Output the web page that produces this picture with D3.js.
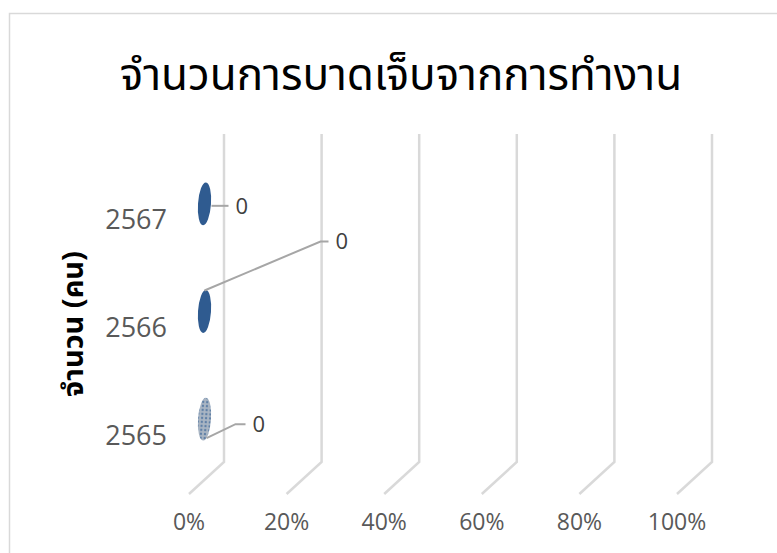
<!DOCTYPE html>
<html>
<head>
<meta charset="utf-8">
<script src="https://cdn.jsdelivr.net/npm/d3@7"></script>
<style>
    body { margin: 0; background: #fff; }
    svg text { font-family: "Open Sans", "Noto Sans Thai", "Noto Sans", "DejaVu Sans", sans-serif; }
</style>
</head>
<body>
<div id="chart-area"></div>
<script>
const WIDTH = 777,
    HEIGHT = 553,
    DEPTH_X = -35,   // 3d floor offset
    DEPTH_Y = 32,
    COLOR_BAR = '#2f5b90',
    COLOR_GRID = '#d9d9d9',
    COLOR_LEADER = '#a6a6a6',
    COLOR_TEXT = '#595959';

// data
const years = ['2567', '2566', '2565'];
const injuries = [0, 0, 0];
const xTicks = [0, 0.2, 0.4, 0.6, 0.8, 1];
const title = 'จำนวนการบาดเจ็บจากการทำงาน';
const yTitle = 'จำนวน (คน)';

// manual data label placement (leader line points, relative to bar end)
const labelPaths = [
    [[7, 2], [24, 2]],
    [[0, -21], [116, -70], [124, -70]],
    [[2, 19], [31, 5], [41, 5]]
];

let svg = d3.select('#chart-area')
    .append('svg')
    .attr('width', WIDTH)
    .attr('height', HEIGHT);

svg.append('rect')
    .attr('x', 9.5).attr('y', 13.5)
    .attr('width', 800).attr('height', 600)
    .attr('fill', '#fff')
    .attr('stroke', COLOR_GRID)
    .attr('stroke-width', 1.5);

let x = d3.scaleLinear().domain([0, 1]).range([224, 712]);
let y = d3.scaleBand().domain(years).range([134, 457]);

// gridlines: back wall + floor
let grid = svg.append('g')
    .attr('fill', 'none')
    .attr('stroke', COLOR_GRID)
    .attr('stroke-width', 2.5);

grid.selectAll('path')
    .data(xTicks)
    .join('path')
    .attr('d', d => `M${x(d)},134V462l${DEPTH_X},${DEPTH_Y}`);

// x axis labels
svg.append('g')
    .selectAll('text')
    .data(xTicks)
    .join('text')
    .attr('x', d => x(d) + DEPTH_X)
    .attr('y', 530)
    .attr('text-anchor', 'middle')
    .attr('fill', COLOR_TEXT)
    .attr('font-size', 23)
    .text(d3.format('.0%'));

// category labels (front edge of the floor)
svg.append('g')
    .selectAll('text')
    .data(years)
    .join('text')
    .attr('x', 167)
    .attr('y', d => y(d) + y.bandwidth() / 2 + DEPTH_Y)
    .attr('dy', '0.35em')
    .attr('text-anchor', 'end')
    .attr('fill', COLOR_TEXT)
    .attr('font-size', 27)
    .text(d => d);

// pattern for the oldest year
let defs = svg.append('defs');
let pat = defs.append('pattern')
    .attr('id', 'dots')
    .attr('width', 4).attr('height', 4)
    .attr('patternUnits', 'userSpaceOnUse');
pat.append('rect').attr('width', 4).attr('height', 4).attr('fill', '#a9b5c3');
pat.append('circle').attr('cx', 2).attr('cy', 2).attr('r', 1.2).attr('fill', '#5f80a6');

// bars (zero length -> only the end cap is seen)
let bars = years.map((yr, i) => ({
    year: yr,
    value: injuries[i],
    cx: x(injuries[i]) + DEPTH_X / 2 - 2,
    cy: y(yr) + y.bandwidth() / 2 + DEPTH_Y / 2
}));

svg.append('g')
    .selectAll('ellipse')
    .data(bars)
    .join('ellipse')
    .attr('cx', d => d.cx)
    .attr('cy', d => d.cy)
    .attr('rx', 6.5)
    .attr('ry', 21.5)
    .attr('transform', d => `rotate(4,${d.cx},${d.cy})`)
    .attr('fill', (d, i) => i === 2 ? 'url(#dots)' : COLOR_BAR);

// data labels with leader lines
let labels = svg.append('g');

labels.selectAll('path')
    .data(bars)
    .join('path')
    .attr('fill', 'none')
    .attr('stroke', COLOR_LEADER)
    .attr('stroke-width', 2)
    .attr('d', (d, i) => d3.line()(labelPaths[i].map(p => [d.cx + p[0], d.cy + p[1]])));

labels.selectAll('text')
    .data(bars)
    .join('text')
    .attr('x', (d, i) => d.cx + labelPaths[i][labelPaths[i].length - 1][0] + 7)
    .attr('y', (d, i) => d.cy + labelPaths[i][labelPaths[i].length - 1][1])
    .attr('dy', '0.35em')
    .attr('fill', '#404040')
    .attr('font-size', 22)
    .text(d => d.value);

// titles
svg.append('text')
    .attr('x', 401)
    .attr('y', 90)
    .attr('text-anchor', 'middle')
    .attr('fill', '#000')
    .attr('font-size', 44)
    .text(title);

svg.append('text')
    .attr('transform', 'translate(83,324) rotate(-90)')
    .attr('text-anchor', 'middle')
    .attr('fill', '#000')
    .attr('font-size', 29)
    .attr('font-weight', 'bold')
    .text(yTitle);
</script>
</body>
</html>
